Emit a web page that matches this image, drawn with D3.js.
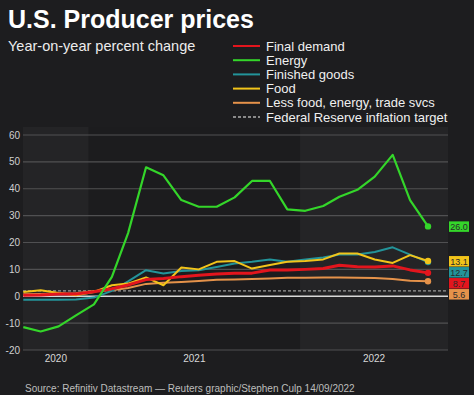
<!DOCTYPE html>
<html>
<head>
<meta charset="utf-8">
<script src="https://cdn.jsdelivr.net/npm/d3@7"></script>
<style>
  body { margin: 0; background: #1d1d1f; }
  svg { display: block; font-family: "Liberation Sans", Arial, sans-serif; }
</style>
</head>
<body>
<div id="chart"></div>
<script>
'use strict'

// monthly observations, Sep 2020 .. Aug 2022
const months = d3.range(24).map(i => new Date(2020, 8 + i, 10))

const finalDemand = [0.4, 0.5, 0.8, 0.8, 1.7, 2.8, 4.2, 6.2, 6.6, 7.3, 7.8, 8.3, 8.6, 8.6, 9.8, 9.8, 10.0, 10.3, 11.5, 11.0, 10.9, 11.3, 9.8, 8.7]
const energy = [-11.5, -13.1, -11.2, -7.1, -3.0, 7.2, 23.5, 48.0, 45.0, 35.8, 33.3, 33.3, 36.8, 42.9, 42.9, 32.3, 31.8, 33.6, 37.0, 39.6, 44.5, 52.6, 35.8, 26.0]
const finishedGoods = [-1.3, -1.3, -1.3, -1.2, -0.5, 2.0, 5.5, 9.7, 8.5, 9.4, 9.7, 10.9, 12.2, 12.8, 13.7, 12.8, 13.7, 14.4, 15.5, 15.5, 16.5, 18.2, 15.5, 12.7]
const food = [1.6, 2.2, 1.2, 0.4, 1.6, 4.1, 4.7, 7.0, 4.1, 10.7, 10.0, 12.8, 13.1, 10.3, 11.6, 12.8, 13.1, 13.7, 15.9, 15.9, 13.7, 12.4, 15.3, 13.1]
const coreIndex = [0.7, 0.8, 1.0, 1.1, 2.0, 2.2, 3.1, 4.6, 5.0, 5.3, 5.7, 6.1, 6.2, 6.4, 6.6, 6.9, 6.9, 7.0, 7.0, 6.9, 6.8, 6.4, 5.8, 5.6]

const fedTarget = 2
const yTicks = [60, 50, 40, 30, 20, 10, 0, -10, -20]
const years = [2020, 2021, 2022]

const series = [
    {name: 'Final demand', values: finalDemand, color: '#e3151d', width: 3},
    {name: 'Energy', values: energy, color: '#34d62a', width: 2.2},
    {name: 'Finished goods', values: finishedGoods, color: '#23949a', width: 2},
    {name: 'Food', values: food, color: '#f2c41a', width: 2},
    {name: 'Less food, energy, trade svcs', values: coreIndex, color: '#e5924a', width: 2}
]

////////////////////////////////////
//////////// svg setup /////////////
////////////////////////////////////

const svgWidth = 474
const svgHeight = 395
const plot = {left: 23, right: 448, top: 135, bottom: 350}

const svg = d3.select('#chart').append('svg')
    .attr('width', svgWidth)
    .attr('height', svgHeight)

svg.append('rect').attr('width', svgWidth).attr('height', svgHeight).attr('fill', '#1d1d1f')

const xScale = d3.scaleTime()
    .domain([months[0], months[months.length - 1]])
    .range([23.3, 428])

const yScale = d3.scaleLinear()
    .domain([-20, 60])
    .range([plot.bottom, plot.top])

// year bands
years.forEach((yr, i) => {
    let x0 = Math.max(plot.left, xScale(new Date(yr, 0, 1)))
    let x1 = Math.min(plot.right, xScale(new Date(yr + 1, 0, 1)))
    svg.append('rect')
        .attr('x', x0).attr('y', plot.top - 8)
        .attr('width', x1 - x0).attr('height', plot.bottom - plot.top + 8)
        .attr('fill', i % 2 == 0 ? '#242426' : '#1c1c1e')
    svg.append('text')
        .attr('x', (x0 + x1) / 2).attr('y', 362)
        .attr('text-anchor', 'middle')
        .attr('font-size', 10)
        .attr('fill', '#d8d8d8')
        .text(yr)
})

// grid
svg.append('g')
    .selectAll('line')
    .data(yTicks.filter(d => d != 0))
    .join('line')
    .attr('x1', plot.left).attr('x2', plot.right)
    .attr('y1', d => yScale(d)).attr('y2', d => yScale(d))
    .attr('stroke', '#505052')
    .attr('stroke-width', 1.2)

svg.append('g')
    .selectAll('text')
    .data(yTicks)
    .join('text')
    .attr('x', 20)
    .attr('y', d => yScale(d) + 3.5)
    .attr('text-anchor', 'end')
    .attr('font-size', 10)
    .attr('fill', '#d0d0d0')
    .text(d => d)

// zero line + fed target
svg.append('line')
    .attr('x1', plot.left).attr('x2', plot.right)
    .attr('y1', yScale(0)).attr('y2', yScale(0))
    .attr('stroke', '#d8d8d8').attr('stroke-width', 1.5)

svg.append('line')
    .attr('x1', plot.left).attr('x2', plot.right)
    .attr('y1', yScale(fedTarget)).attr('y2', yScale(fedTarget))
    .attr('stroke', '#9a9a9a').attr('stroke-width', 1.3)
    .attr('stroke-dasharray', '3,2')

// lines
const line = d3.line()
    .x((d, i) => xScale(months[i]))
    .y(d => yScale(d))

const drawOrder = [4, 2, 3, 0, 1]
drawOrder.forEach(k => {
    let s = series[k]
    svg.append('path')
        .attr('d', line(s.values))
        .attr('fill', 'none')
        .attr('stroke', s.color)
        .attr('stroke-width', s.width)
        .attr('stroke-linejoin', 'round')
    svg.append('circle')
        .attr('cx', xScale(months[months.length - 1]))
        .attr('cy', yScale(s.values[s.values.length - 1]))
        .attr('r', 3.2)
        .attr('fill', s.color)
})

// end labels, pushed apart so they don't overlap
let labels = series.map(s => ({s: s, v: s.values[s.values.length - 1], y: yScale(s.values[s.values.length - 1])}))
    .sort((a, b) => a.y - b.y)
for (let i = 1; i < labels.length; i++) {
    if (labels[i].y - labels[i - 1].y < 11) labels[i].y = labels[i - 1].y + 11
}
labels.forEach(l => {
    svg.append('rect')
        .attr('x', 449).attr('y', l.y - 5)
        .attr('width', 20).attr('height', 10.5)
        .attr('fill', l.s.color)
    svg.append('text')
        .attr('x', 459).attr('y', l.y + 3.5)
        .attr('text-anchor', 'middle')
        .attr('font-size', 9)
        .attr('fill', '#2a2a2a')
        .text(l.v.toFixed(1))
})

// title
svg.append('text')
    .attr('x', 8).attr('y', 28)
    .attr('font-size', 25).attr('font-weight', 'bold')
    .attr('fill', '#ffffff')
    .text('U.S. Producer prices')

svg.append('text')
    .attr('x', 8).attr('y', 51)
    .attr('font-size', 14.5)
    .attr('fill', '#ececec')
    .text('Year-on-year percent change')

// legend
const legendItems = series.map(s => ({name: s.name, color: s.color, dash: null}))
    .concat([{name: 'Federal Reserve inflation target', color: '#8a8a8a', dash: '3,2'}])

legendItems.forEach((d, i) => {
    let y = 46 + i * 14.2
    svg.append('line')
        .attr('x1', 233).attr('x2', 260)
        .attr('y1', y).attr('y2', y)
        .attr('stroke', d.color)
        .attr('stroke-width', 2)
        .attr('stroke-dasharray', d.dash)
    svg.append('text')
        .attr('x', 266).attr('y', y + 4.5)
        .attr('font-size', 13)
        .attr('fill', '#f0f0f0')
        .text(d.name)
})

svg.append('text')
    .attr('x', 25).attr('y', 392)
    .attr('font-size', 10)
    .attr('fill', '#bdbdbd')
    .text('Source: Refinitiv Datastream \u2014 Reuters graphic/Stephen Culp 14/09/2022')
</script>
</body>
</html>
